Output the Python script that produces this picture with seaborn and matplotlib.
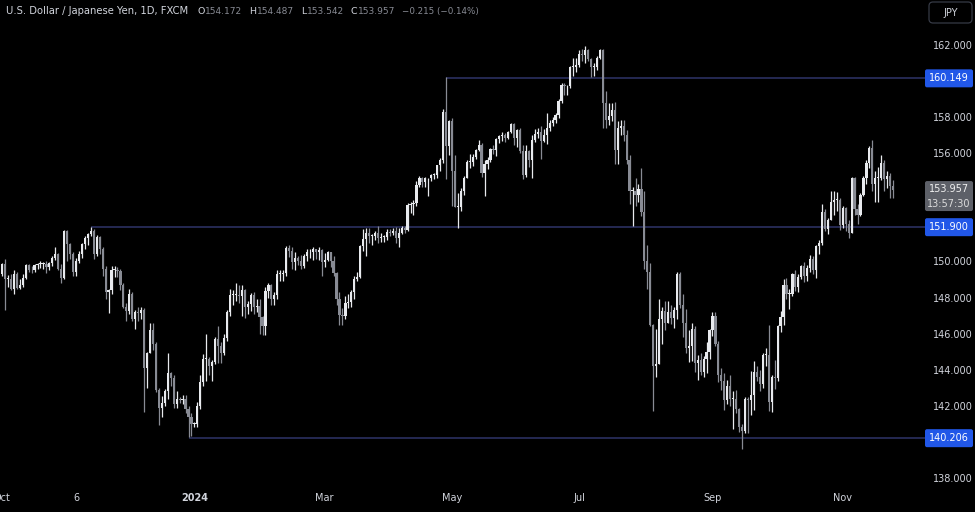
import numpy as np
import pandas as pd
import matplotlib
matplotlib.use("Agg")
import matplotlib.pyplot as plt
import matplotlib.transforms as mtransforms
from matplotlib.patches import FancyBboxPatch
import seaborn as sns

# USD/JPY daily candles (FXCM), first bar 2 Oct 2023, last bar 26 Nov 2024 (live)
close = [
    # Oct 2023
    149.85, 149.02, 149.05, 148.50, 149.30, 148.55, 148.70, 149.10, 149.80, 149.55,
    149.50, 149.80, 149.85, 149.85, 149.85, 149.70, 149.90, 150.20, 150.40, 149.60,
    149.10, 151.68,
    # Nov 2023
    150.95, 150.40, 149.40, 150.05, 150.40, 150.95, 151.30, 151.50, 151.70, 150.40,
    151.35, 150.70, 149.60, 148.30, 148.40, 149.55, 149.55, 149.45, 148.70, 147.45,
    147.25, 148.20,
    # Dec 2023
    146.80, 147.20, 147.15, 147.30, 144.10, 144.95, 146.20, 145.40, 142.90, 141.90,
    142.15, 142.80, 143.80, 143.55, 142.10, 142.40, 142.30, 142.40, 141.80, 141.40,
    141.00,
    # Jan 2024
    141.00, 142.00, 143.30, 144.60, 144.60, 144.20, 144.40, 145.70, 145.30, 144.90,
    145.75, 147.20, 148.15, 148.15, 148.15, 148.10, 148.40, 147.50, 147.65, 148.15,
    147.50, 147.55, 146.90,
    # Feb 2024
    146.40, 148.35, 148.70, 147.90, 148.15, 149.30, 149.30, 149.35, 150.75, 150.60,
    149.95, 150.20, 150.00, 149.75, 150.30, 150.50, 150.50, 150.70, 150.50, 150.65,
    149.95,
    # Mar 2024
    150.10, 150.50, 150.00, 149.35, 147.90, 147.05, 146.95, 147.70, 147.75, 148.30,
    149.05, 149.15, 150.85, 151.25, 151.55, 151.40, 151.40, 151.55, 151.30, 151.35,
    151.35,
    # Apr 2024
    151.65, 151.55, 151.70, 151.30, 151.60, 151.85, 151.75, 153.15, 153.20, 153.25,
    154.25, 154.65, 154.40, 154.60, 154.60, 154.80, 154.80, 155.35, 155.60, 158.30,
    156.40, 157.80,
    # May 2024
    155.00, 153.00, 153.00, 153.90, 154.65, 155.50, 155.50, 155.80, 156.20, 156.45,
    154.90, 155.40, 155.65, 156.25, 156.20, 156.80, 156.95, 157.00, 156.85, 157.15,
    157.60, 156.85, 157.30,
    # Jun 2024
    156.10, 154.80, 156.10, 155.60, 156.75, 157.05, 157.15, 156.70, 157.00, 157.40,
    157.70, 157.85, 158.10, 158.90, 159.80, 159.70, 159.70, 160.80, 160.80, 160.90,
    # Jul 2024
    161.50, 161.45, 161.70, 161.20, 160.80, 160.80, 161.30, 161.70, 158.80, 157.85,
    158.05, 158.40, 156.20, 157.40, 157.50, 157.00, 155.60, 153.90, 153.90, 153.70,
    154.00, 152.75, 150.00,
    # Aug 2024
    149.40, 146.50, 144.20, 144.30, 146.80, 147.25, 146.60, 147.20, 146.85, 147.30,
    149.30, 147.60, 146.60, 145.20, 145.30, 146.25, 144.35, 144.55, 143.90, 144.60,
    145.00, 146.20,
    # Sep 2024
    147.00, 145.45, 143.70, 143.40, 142.30, 143.10, 142.40, 142.40, 141.80, 140.85,
    140.60, 142.35, 142.30, 142.60, 143.85, 143.60, 143.20, 144.80, 144.80, 142.20,
    143.60,
    # Oct 2024
    143.55, 146.40, 146.90, 148.70, 148.20, 148.20, 149.30, 148.60, 149.15, 149.75,
    149.20, 149.65, 150.15, 149.50, 150.85, 151.05, 152.75, 151.80, 152.30, 153.30,
    153.40, 153.40, 152.00,
    # Nov 2024
    152.95, 152.10, 151.60, 154.60, 152.90, 152.60, 153.70, 154.60, 155.45, 156.30,
    154.30, 154.65, 154.65, 155.45, 154.55, 154.75, 154.172, 153.957,
]

high = [
    149.90, 150.16, 149.25, 149.30, 149.53, 149.40, 149.05, 149.30, 149.85, 149.85,
    149.75, 149.85, 149.90, 150.00, 149.95, 150.00, 149.95, 150.30, 150.78, 150.45,
    149.85, 151.72,
    151.72, 151.00, 150.55, 150.20, 150.60, 151.00, 151.40, 151.60, 151.91, 151.80,
    151.45, 151.40, 150.80, 149.75, 148.50, 149.75, 149.75, 149.70, 149.60, 148.80,
    147.70, 148.50,
    148.30, 147.30, 147.45, 147.50, 147.40, 145.00, 146.60, 146.60, 145.55, 143.00,
    142.55, 142.95, 144.95, 143.90, 143.70, 142.80, 142.50, 142.60, 142.60, 142.00,
    141.60,
    141.10, 142.20, 143.70, 144.85, 145.98, 144.70, 144.55, 145.80, 146.40, 145.55,
    146.00, 147.30, 148.50, 148.40, 148.80, 148.70, 148.70, 148.50, 147.80, 148.25,
    148.30, 147.90, 147.90,
    147.00, 148.60, 148.80, 148.75, 148.30, 149.55, 149.50, 149.50, 150.85, 150.90,
    150.80, 150.50, 150.30, 150.35, 150.40, 150.70, 150.70, 150.80, 150.70, 150.80,
    150.70,
    150.45, 150.60, 150.55, 150.30, 149.40, 148.30, 147.40, 148.10, 148.20, 148.40,
    149.20, 149.40, 150.90, 151.80, 151.85, 151.85, 151.50, 151.70, 151.97, 151.55,
    151.45,
    151.80, 151.80, 151.85, 151.90, 151.85, 151.95, 151.95, 153.25, 153.30, 153.40,
    154.45, 154.75, 154.70, 154.70, 154.65, 154.85, 154.90, 155.35, 155.75, 158.45,
    160.20, 157.85,
    157.95, 155.90, 153.80, 154.05, 154.75, 155.65, 155.95, 155.95, 156.25, 156.75,
    156.55, 155.60, 155.80, 156.30, 156.45, 156.85, 157.00, 157.20, 157.10, 157.25,
    157.70, 157.70, 157.35,
    157.40, 156.45, 156.45, 156.20, 157.00, 157.35, 157.40, 157.50, 157.35, 158.25,
    157.85, 158.00, 158.25, 159.00, 159.90, 159.90, 159.80, 160.85, 161.25, 161.25,
    161.70, 161.75, 161.95, 161.80, 161.25, 161.00, 161.40, 161.80, 161.80, 159.45,
    158.80, 158.80, 158.85, 157.80, 157.85, 157.85, 157.30, 155.90, 154.10, 154.60,
    154.30, 155.20, 153.90,
    150.90, 149.90, 146.55, 146.25, 147.90, 147.50, 147.80, 147.80, 147.60, 147.50,
    149.40, 149.40, 148.20, 147.35, 146.20, 146.60, 146.40, 144.80, 144.90, 144.75,
    145.55, 146.25,
    147.20, 147.20, 145.60, 144.10, 143.80, 143.45, 143.70, 142.80, 142.90, 141.90,
    141.00, 142.50, 142.50, 143.95, 144.50, 144.20, 144.00, 144.90, 145.20, 146.50,
    143.70,
    144.55, 146.50, 147.25, 149.00, 149.10, 148.50, 149.35, 149.50, 149.30, 149.80,
    149.95, 149.80, 150.35, 150.30, 150.90, 151.20, 153.20, 152.90, 152.40, 153.90,
    153.90, 153.85, 153.50,
    153.10, 153.00, 152.30, 154.70, 154.70, 153.20, 153.80, 154.75, 155.60, 156.40,
    156.75, 155.00, 155.25, 155.90, 155.60, 155.00, 154.90, 154.487,
]

low = [
    149.20, 147.31, 148.60, 148.40, 148.20, 148.50, 148.45, 148.60, 149.00, 149.40,
    149.35, 149.40, 149.60, 149.65, 149.60, 149.35, 149.55, 149.75, 150.10, 149.55,
    148.80, 149.00,
    150.00, 150.15, 149.20, 149.20, 149.90, 150.20, 150.70, 150.90, 151.40, 150.15,
    150.30, 150.40, 149.20, 147.90, 147.15, 148.20, 149.15, 149.15, 148.40, 147.40,
    146.70, 147.10,
    146.70, 146.25, 146.70, 146.80, 141.65, 143.00, 144.90, 145.10, 142.75, 140.95,
    141.40, 142.00, 142.40, 143.10, 141.90, 141.90, 142.15, 142.10, 141.60, 140.25,
    140.30,
    140.80, 140.80, 141.80, 143.10, 143.40, 143.70, 143.40, 144.30, 144.35, 144.35,
    144.80, 145.60, 147.00, 147.60, 147.80, 147.70, 146.95, 146.85, 147.10, 147.25,
    147.10, 147.20, 146.00,
    145.90, 145.90, 148.00, 147.60, 147.60, 147.90, 148.90, 148.90, 149.20, 150.25,
    149.60, 149.55, 149.80, 149.60, 149.65, 150.00, 150.20, 150.10, 150.15, 150.10,
    149.20,
    149.70, 150.00, 149.70, 149.20, 147.60, 146.50, 146.50, 146.80, 147.40, 147.50,
    147.90, 148.90, 149.10, 150.60, 150.30, 151.00, 150.90, 151.20, 151.00, 151.10,
    151.10,
    151.20, 151.40, 151.45, 151.00, 150.80, 151.50, 151.60, 151.70, 152.70, 152.60,
    153.10, 154.10, 154.10, 154.10, 153.60, 154.45, 154.55, 154.60, 155.00, 155.45,
    154.55, 155.90,
    153.05, 153.00, 151.86, 152.80, 153.70, 154.60, 155.20, 155.30, 155.70, 156.10,
    154.70, 153.60, 155.10, 155.50, 155.95, 155.85, 156.55, 156.70, 156.60, 156.80,
    157.10, 156.45, 156.35,
    156.00, 154.55, 154.70, 155.25, 154.60, 156.60, 156.85, 155.70, 156.60, 156.50,
    157.25, 157.50, 157.70, 157.95, 158.80, 159.20, 159.25, 159.60, 160.30, 160.50,
    160.80, 161.10, 161.00, 161.10, 160.25, 160.30, 160.60, 161.20, 157.40, 157.40,
    157.55, 157.80, 155.40, 155.40, 157.00, 156.70, 155.40, 153.20, 151.95, 153.10,
    153.30, 152.50, 149.60,
    148.50, 146.40, 141.70, 143.60, 144.30, 145.40, 146.20, 146.60, 146.55, 146.30,
    146.80, 147.40, 145.80, 144.95, 144.45, 144.50, 143.90, 143.45, 143.70, 143.60,
    143.80, 144.60,
    145.85, 145.30, 143.30, 142.90, 141.75, 142.10, 142.00, 140.70, 141.60, 140.55,
    139.58, 140.50, 140.50, 141.50, 141.75, 143.40, 142.80, 143.00, 144.20, 141.70,
    141.65,
    142.95, 143.40, 146.10, 146.50, 147.90, 147.35, 148.10, 148.35, 148.30, 149.00,
    148.85, 148.90, 149.40, 149.30, 149.10, 150.40, 150.90, 151.70, 151.50, 152.30,
    152.60, 152.80, 151.75,
    151.85, 151.70, 151.30, 151.60, 152.60, 152.10, 152.50, 153.60, 154.30, 155.20,
    153.90, 153.30, 153.30, 154.50, 153.90, 154.05, 153.50, 153.542,
]

first_open = 149.30

# horizontal levels and the bar each one starts from
level_prices = [160.149, 151.900, 140.206]
level_start_dates = ["2024-04-29", "2023-11-13", "2023-12-28"]

price_ticks = [138, 142, 144, 146, 148, 150, 156, 158, 162]
time_tick_dates = ["2023-10-02", "2023-11-06", "2024-01-01", "2024-03-01",
                   "2024-05-01", "2024-07-01", "2024-09-02", "2024-11-01"]
time_tick_labels = ["Oct", "6", "2024", "Mar", "May", "Jul", "Sep", "Nov"]

countdown = "13:57:30"
title = "U.S. Dollar / Japanese Yen, 1D, FXCM"

BG = "#000000"
TXT = "#d1d4dc"
UP = "#e8eaee"
DOWN = "#888b94"
LEVEL = "#2e3468"
BLUE = "#2157e8"
W, H = 975, 512

sns.set_theme(style="dark", rc={
    "figure.facecolor": BG, "axes.facecolor": BG, "savefig.facecolor": BG,
    "text.color": TXT, "xtick.color": TXT, "ytick.color": TXT,
})
plt.rcParams["font.family"] = ["DejaVu Sans"]

dates = pd.bdate_range("2023-10-02", periods=len(close))
df = pd.DataFrame({"date": dates, "close": close, "high": high, "low": low})
df["open"] = [first_open] + close[:-1]
df["x"] = np.arange(len(df))
df["up"] = df["close"] >= df["open"]
df["color"] = np.where(df["up"], UP, DOWN)
df["body_lo"] = df[["open", "close"]].min(axis=1)
df["body_h"] = (df["close"] - df["open"]).abs().clip(lower=0.05)

fig = plt.figure(figsize=(W / 100, H / 100), dpi=100)
ax = fig.add_axes([0, 25 / H, 920 / W, 487 / H])
ax.set_facecolor(BG)

# levels first so candles sit on top
for price, d in zip(level_prices, level_start_dates):
    start = dates.get_loc(pd.Timestamp(d))
    ax.hlines(price, start, 312, color=LEVEL, linewidth=1.1, zorder=1, clip_on=False)

ax.vlines(df["x"], df["low"], df["high"], colors=df["color"], linewidth=0.9, zorder=2)
ax.bar(df["x"], df["body_h"], bottom=df["body_lo"], width=0.74,
       color=df["color"], linewidth=0, zorder=3)

ax.set_xlim(-0.68, 310.1)
ax.set_ylim(137.50, 164.49)
for s in ax.spines.values():
    s.set_visible(False)
ax.grid(False)

# time axis
tick_pos = [dates.get_loc(pd.Timestamp(d)) for d in time_tick_dates]
ax.set_xticks(tick_pos)
ax.set_xticklabels(time_tick_labels, fontsize=7, color=TXT)
ax.tick_params(axis="x", length=0, pad=4)
for lab in ax.get_xticklabels():
    if lab.get_text() == "2024":
        lab.set_fontweight("bold")

# price axis
ax.yaxis.tick_right()
ax.set_yticks(price_ticks)
ax.set_yticklabels([f"{v:.3f}" for v in price_ticks], fontsize=7, color=TXT)
ax.tick_params(axis="y", length=0, pad=9.5)

pix = mtransforms.IdentityTransform()


def label_box(y_pix, h, lines, fc):
    fig.patches.append(FancyBboxPatch((925, y_pix - h), 48, h,
                                      boxstyle="round,pad=0,rounding_size=2",
                                      fc=fc, ec="none", transform=pix, figure=fig))
    n = len(lines)
    for i, (txt, col) in enumerate(lines):
        fig.text(949, y_pix - h * (i + 0.5) / n, txt, transform=pix, ha="center",
                 va="center", fontsize=7, color=col)


for price in level_prices:
    yp = ax.transData.transform((0, price))[1]
    label_box(yp + 9, 18, [(f"{price:.3f}", "#ffffff")], BLUE)

last = df.iloc[-1]
yp = ax.transData.transform((0, last["close"]))[1]
label_box(yp + 9, 30, [(f"{last['close']:.3f}", "#f0f0f0"), (countdown, "#dcdcdc")], "#5d6068")

# currency button
fig.patches.append(FancyBboxPatch((929, H - 23), 43, 21, boxstyle="round,pad=0,rounding_size=4",
                                  fc=BG, ec="#363a45", lw=0.9, transform=pix, figure=fig))
fig.text(950.5, H - 12.5, "JPY", transform=pix, ha="center", va="center", fontsize=7, color=TXT)

# header legend: text pieces laid out left to right
renderer = fig.canvas.get_renderer()
chg = last["close"] - last["open"]
pct = chg / last["open"] * 100
pieces = [(title, TXT, 7.2, 9)]
for letter, val in zip("OHLC", [last["open"], last["high"], last["low"], last["close"]]):
    pieces.append((letter, TXT, 6.8, 0.5))
    pieces.append((f"{val:.3f}", DOWN, 6.5, 7))
pieces.append((f"{chg:.3f} ({pct:.2f}%)".replace("-", "\u2212"), DOWN, 6.3, 0))
x = 6
for txt, col, fs, gap in pieces:
    t = fig.text(x, H - 11.5, txt, transform=pix, ha="left", va="center", fontsize=fs, color=col)
    x += t.get_window_extent(renderer).width + gap

fig.savefig("out.png", dpi=100, facecolor=BG)
